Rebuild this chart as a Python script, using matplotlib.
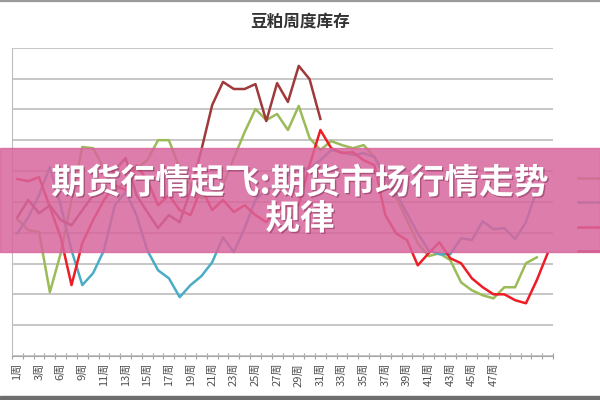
"""
Soybean meal weekly stock chart (豆粕周度库存) with a pink headline banner on top.
"""

import matplotlib.pyplot as plt
import matplotlib.patheffects as pe
from matplotlib.lines import Line2D
from matplotlib.patches import Rectangle

# week categories: 50 slots, labels on every other slot up to 47周
n_weeks = 50
week_labels = [
    "1周", "3周", "6周", "9周", "11周", "13周", "15周", "17周", "19周", "21周",
    "23周", "25周", "27周", "29周", "31周", "33周", "35周", "37周", "39周", "41周",
    "43周", "45周", "47周",
]

series_names = ["2011年", "2012年", "2013年", "2014年"]

green_vals = [
    44.4, 40.8, 40.2, 20.7, 33.3, 50.6, 67.8, 67.4, 60.9, 53.2,
    57.0, 60.9, 63.5, 70.0, 70.0, 60.9, 55.4, 51.2, 52.2, 55.4,
    64.2, 72.6, 80.1, 76.5, 78.5, 73.3, 81.1, 70.7, 66.8, 69.7,
    68.4, 67.4, 68.4, 64.5, 57.7, 51.5, 44.1, 36.6, 32.4, 33.3,
    31.1, 23.9, 21.3, 19.7, 18.7, 22.3, 22.3, 30.1, 32.0,
]
teal_vals = [
    39.8, 45.0, 52.2, 61.3, 48.9, 34.3, 23.0, 26.9, 34.3, 48.9,
    53.2, 45.7, 34.3, 27.8, 25.2, 19.1, 23.0, 25.9, 30.4, 38.5,
    33.7, 41.5, 50.6, 53.8, 55.4, 58.7, 60.3, 60.9, 63.5, 66.8,
    66.1, 65.2, 65.8, 64.5, 58.7, 52.8, 46.3, 39.8, 34.3, 33.0,
    33.0, 38.2, 37.6, 43.7, 41.1, 41.5, 37.9, 43.4, 53.8,
]
red_vals = [
    57.4, 56.7, 58.0, 48.3, 38.5, 23.0, 36.6, 44.1, 50.6, 55.4,
    53.8, 61.9, 57.0, 48.9, 52.2, 47.3, 45.7, 54.5, 47.3, 50.6,
    46.7, 48.9, 45.7, 43.4, 47.3, 48.9, 48.9, 61.9, 73.3, 67.4,
    65.8, 66.1, 63.5, 61.9, 45.7, 39.8, 37.6, 29.4, 33.3, 36.9,
    31.7, 30.1, 25.2, 22.3, 20.0, 20.0, 18.1, 17.1, 24.6, 33.3,
]
dark_red_vals = [
    45.0, 50.6, 46.3, 48.9, 44.1, 42.4, 47.3, 52.2, 55.4, 60.3,
    64.2, 52.2, 46.7, 41.5, 45.7, 43.4, 53.8, 66.8, 81.4, 88.9,
    86.6, 86.6, 88.2, 76.2, 88.5, 82.4, 94.1, 89.8, 76.9,
]


def plot_stock(output_path: str) -> None:
    plt.rcParams["font.family"] = ["Noto Sans CJK SC", "DejaVu Sans"]

    fig = plt.figure(figsize=(6, 4), dpi=100)
    ax = fig.add_axes([0.02, 0.11, 0.9017, 0.7708])

    colors = ["#9BBB59", "#4BACC6", "#EE1C25", "#A0393B"]
    all_vals = [green_vals, teal_vals, red_vals, dark_red_vals]
    handles = []
    for name, vals, col in zip(series_names, all_vals, colors):
        (line,) = ax.plot(range(len(vals)), vals, color=col, linewidth=1.8,
                          label=name)
        handles.append(line)

    ax.set_xlim(-0.5, n_weeks - 0.5)
    ax.set_ylim(0, 100)
    ax.set_yticks(range(0, 101, 10))
    ax.set_yticklabels([])
    ax.tick_params(axis="y", length=0)
    ax.grid(axis="y", color="#C6C6C6", linewidth=1.4)
    ax.set_axisbelow(True)

    ax.set_xticks(range(0, 2 * len(week_labels), 2))
    ax.set_xticklabels(week_labels, rotation=90, fontsize=8, color="#505050")
    ax.set_xticks([k - 0.5 for k in range(n_weeks + 1)], minor=True)
    ax.tick_params(axis="x", which="major", length=0, pad=5)
    ax.tick_params(axis="x", which="minor", length=4, direction="inout",
                   color="#A0A0A0", width=0.8)

    for side in ("top", "right"):
        ax.spines[side].set_visible(False)
    ax.spines["left"].set_color("#BDBDBD")
    ax.spines["bottom"].set_color("#A6A6A6")

    fig.text(0.5, 1 - 22 / 400, "豆粕周度库存", ha="center", va="center",
             fontsize=12, fontweight="bold", color="#333333")

    # legend sits at the right edge; its labels fall outside the picture in the
    # reference, so only the line samples are shown
    fig.legend(handles, [""] * len(handles), loc="upper left",
               bbox_to_anchor=(578 / 600, 1 - 172 / 400), frameon=False,
               fontsize=9, handlelength=2.6, borderpad=0, borderaxespad=0,
               labelspacing=0.92)

    # page frame lines
    fig.add_artist(Line2D([0, 1], [0.997, 0.997], transform=fig.transFigure,
                          color="#9A9A9A", linewidth=1.6))
    fig.add_artist(Rectangle((0, 0), 1, 4 / 400, transform=fig.transFigure,
                             color="#6E6E6E", zorder=9))

    # headline banner
    fig.add_artist(Rectangle((0, 1 - 252 / 400), 1, 104 / 400,
                             transform=fig.transFigure, color="#D8669D",
                             alpha=0.85, zorder=10))
    shadow = [pe.withSimplePatchShadow(offset=(1, -1), shadow_rgbFace="#7a2a50",
                                       alpha=0.5)]
    fig.text(0.5, 1 - 183 / 400, "期货行情起飞:期货市场行情走势", ha="center",
             va="center", fontsize=25, fontweight="bold", color="white",
             zorder=11, path_effects=shadow)
    fig.text(0.5, 1 - 219 / 400, "规律", ha="center", va="center",
             fontsize=25, fontweight="bold", color="white", zorder=11,
             path_effects=shadow)

    fig.savefig(output_path)
    plt.close(fig)


if __name__ == "__main__":
    plot_stock("out.png")
